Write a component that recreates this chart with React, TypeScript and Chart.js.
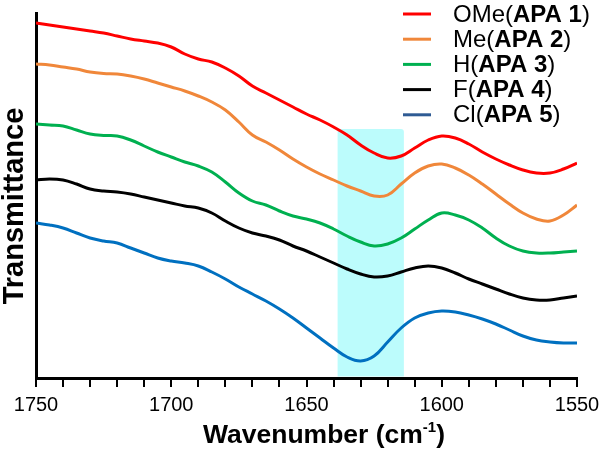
import { useEffect, useRef } from 'react';
import { Chart, registerables } from 'chart.js';

Chart.register(...registerables);

const WAVENUMBERS = [
  1750, 1745, 1740, 1735, 1730, 1725, 1720, 1715, 1710, 1705,
  1700, 1695, 1690, 1685, 1680, 1675, 1670, 1665, 1660, 1655,
  1650, 1645, 1640, 1635, 1630, 1625, 1620, 1615, 1610, 1605,
  1600, 1595, 1590, 1585, 1580, 1575, 1570, 1565, 1560, 1555, 1550,
];

const SUBSTITUENTS = ['OMe', 'Me', 'H', 'F', 'Cl'];
const COMPOUNDS = ['APA 1', 'APA 2', 'APA 3', 'APA 4', 'APA 5'];

const OME_APA1 = [
  355, 353, 351, 349, 347, 345, 342, 339, 337, 335,
  331, 324, 319, 316, 310, 302, 292, 285, 278, 271,
  264, 258, 251, 243, 233, 225, 220, 222, 230, 238,
  242, 240, 234, 226, 219, 213, 208, 205, 205, 209, 215,
];
const ME_APA2 = [
  314, 313, 311, 309, 306, 304.5, 304, 302, 299, 295,
  291, 287, 282, 276, 268, 256, 243, 236, 228, 219,
  211, 204, 198, 192, 187, 182, 183, 194, 205, 212,
  214, 210, 203, 194, 184, 174, 165, 159, 157, 163, 173,
];
const H_APA3 = [
  254, 253, 252, 248, 244, 242.5, 242, 238, 232, 226,
  221, 216, 212, 206, 196, 185, 177, 173, 167, 162,
  159, 155, 149, 142, 136, 132, 134, 140, 149, 158,
  165, 163, 158, 150, 140, 132, 127, 125, 125, 126, 127,
];
const F_APA4 = [
  198, 199, 198, 194, 189, 187, 186, 184, 181, 178,
  175, 172, 170, 165, 157, 150, 145, 142, 138, 132,
  127, 121, 115, 109, 104, 101, 102, 106, 110, 112,
  110, 105, 99, 94, 89, 84, 80, 78, 78, 80, 82,
];
const CL_APA5 = [
  155, 153, 150, 145, 140, 137, 135, 130, 125, 120,
  117, 115, 112, 106, 99, 91, 84, 77, 69, 60,
  50, 40, 30, 21, 17, 22, 36, 50, 60, 65,
  67, 66, 63, 59, 54, 48, 42, 38, 36, 35, 35,
];

const SERIES = [OME_APA1, ME_APA2, H_APA3, F_APA4, CL_APA5];
const LINE_COLORS = ['#ff0000', '#f0873a', '#00b050', '#000000', '#0070c0'];
const LEGEND_COLORS = ['#ff0000', '#f0873a', '#00b050', '#000000', '#2f5b94'];

const X_TICK_LABELS = [1750, 1700, 1650, 1600, 1550];
const HIGHLIGHT_FROM = 1638.5;
const HIGHLIGHT_TO = 1614;
const HIGHLIGHT_TOP = 249;

const FONT = "'Liberation Sans', Arial, Helvetica, sans-serif";

const overlayPlugin = {
  id: 'overlay',
  beforeDatasetsDraw(chart: any) {
    const { ctx, chartArea, scales } = chart;
    const x1 = scales.x.getPixelForValue(HIGHLIGHT_FROM);
    const x2 = scales.x.getPixelForValue(HIGHLIGHT_TO);
    const top = scales.y.getPixelForValue(HIGHLIGHT_TOP);
    const bottom = chartArea.bottom - 1.5;
    const r = 3;
    ctx.save();
    ctx.fillStyle = 'rgb(188, 252, 252)';
    ctx.beginPath();
    ctx.moveTo(x1, bottom);
    ctx.lineTo(x1, top + r);
    ctx.quadraticCurveTo(x1, top, x1 + r, top);
    ctx.lineTo(x2 - r, top);
    ctx.quadraticCurveTo(x2, top, x2, top + r);
    ctx.lineTo(x2, bottom);
    ctx.closePath();
    ctx.fill();
    ctx.restore();
  },
  afterDraw(chart: any) {
    const { ctx, chartArea } = chart;
    ctx.save();
    ctx.fillStyle = '#000';

    // Y title
    ctx.save();
    ctx.translate(15, 206);
    ctx.rotate(-Math.PI / 2);
    ctx.font = `bold 29px ${FONT}`;
    ctx.textAlign = 'center';
    ctx.textBaseline = 'middle';
    ctx.fillText('Transmittance', 0, 0);
    ctx.restore();

    // X title with superscript
    const mainFont = `bold 26.5px ${FONT}`;
    const supFont = `bold 15px ${FONT}`;
    const part1 = 'Wavenumber (cm';
    const sup = '-1';
    const part3 = ')';
    ctx.font = mainFont;
    const w1 = ctx.measureText(part1).width;
    const w3 = ctx.measureText(part3).width;
    ctx.font = supFont;
    const w2 = ctx.measureText(sup).width;
    const total = w1 + w2 + w3;
    const cx = (chartArea.left + chartArea.right) / 2 + 17.5;
    let xs = cx - total / 2;
    const base = 443;
    ctx.textAlign = 'left';
    ctx.textBaseline = 'alphabetic';
    ctx.font = mainFont;
    ctx.fillText(part1, xs, base);
    xs += w1;
    ctx.font = supFont;
    ctx.fillText(sup, xs, base - 11);
    xs += w2;
    ctx.font = mainFont;
    ctx.fillText(part3, xs, base);

    // Legend
    const lineX1 = 403;
    const lineX2 = 431;
    const textX = 453;
    const rowTop = 14;
    const rowGap = 25.2;
    ctx.textBaseline = 'middle';
    for (let i = 0; i < SUBSTITUENTS.length; i++) {
      const yy = rowTop + i * rowGap;
      ctx.strokeStyle = LEGEND_COLORS[i];
      ctx.lineWidth = 3;
      ctx.beginPath();
      ctx.moveTo(lineX1, yy);
      ctx.lineTo(lineX2, yy);
      ctx.stroke();
      let tx = textX;
      ctx.fillStyle = '#000';
      ctx.font = `24px ${FONT}`;
      const pre = SUBSTITUENTS[i] + '(';
      ctx.fillText(pre, tx, yy + 1);
      tx += ctx.measureText(pre).width;
      ctx.font = `bold 24px ${FONT}`;
      ctx.fillText(COMPOUNDS[i], tx, yy + 1);
      tx += ctx.measureText(COMPOUNDS[i]).width;
      ctx.font = `24px ${FONT}`;
      ctx.fillText(')', tx, yy + 1);
    }
    ctx.restore();
  },
};

export default function App() {
  const canvasRef = useRef<HTMLCanvasElement | null>(null);

  useEffect(() => {
    const canvas = canvasRef.current;
    if (!canvas) return;
    const datasets = SERIES.map((values, i) => ({
      label: `${SUBSTITUENTS[i]}(${COMPOUNDS[i]})`,
      data: WAVENUMBERS.map((w, j) => ({ x: w, y: values[j] })),
      borderColor: LINE_COLORS[i],
      backgroundColor: LINE_COLORS[i],
      borderWidth: 3,
      pointRadius: 0,
      tension: 0.4,
      fill: false,
    }));
    const chart = new Chart(canvas, {
      type: 'line',
      data: { datasets },
      plugins: [overlayPlugin],
      options: {
        animation: false,
        responsive: false,
        devicePixelRatio: 1,
        layout: { padding: { top: 13, right: 23, left: 0, bottom: 0 } },
        plugins: {
          legend: { display: false },
          tooltip: { enabled: false },
        },
        scales: {
          x: {
            type: 'linear',
            min: 1550,
            max: 1750,
            reverse: true,
            afterFit: (scale: any) => {
              scale.height = 73;
              scale.paddingLeft = 0;
              scale.paddingRight = 0;
            },
            border: { display: true, color: '#000', width: 3 },
            grid: {
              display: true,
              drawOnChartArea: false,
              drawTicks: true,
              tickLength: 9,
              color: '#000',
              lineWidth: 2,
            },
            ticks: {
              stepSize: 10,
              autoSkip: false,
              maxRotation: 0,
              padding: 6,
              color: '#000',
              font: { family: FONT, size: 20 },
              callback: (v: any) => (X_TICK_LABELS.includes(Number(v)) ? String(v) : ''),
            },
            title: { display: false },
          },
          y: {
            type: 'linear',
            min: 0,
            max: 365,
            afterFit: (scale: any) => {
              scale.width = 36;
            },
            border: { display: true, color: '#000', width: 3 },
            grid: { display: false },
            ticks: { display: false },
            title: { display: false },
          },
        },
      },
    });
    return () => chart.destroy();
  }, []);

  return (
    <div style={{ position: 'absolute', left: 0, top: 0, width: 600, height: 451, background: '#fff' }}>
      <canvas ref={canvasRef} width={600} height={451} />
    </div>
  );
}
